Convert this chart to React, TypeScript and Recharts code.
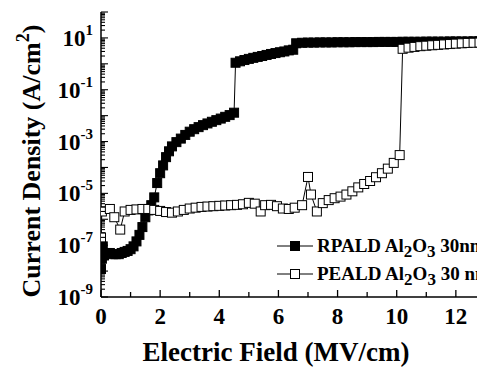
import { LineChart, Line, XAxis, YAxis } from 'recharts';

// RPALD Al2O3 30nm (filled squares)
const rpaldField = [
  0.0, 0.03, 0.06, 0.1, 0.2, 0.3, 0.4, 0.5, 0.6, 0.7, 0.8, 0.9, 1.0, 1.1, 1.2, 1.3, 1.4, 1.5, 1.6, 1.7, 1.8, 1.9,
  2.0, 2.1, 2.2, 2.3, 2.4, 2.55, 2.7, 2.85, 3.0, 3.15, 3.3, 3.45, 3.6, 3.75, 3.9, 4.05, 4.2, 4.35, 4.5,
  4.55, 4.7, 4.85, 5.0, 5.15, 5.3, 5.45, 5.6, 5.75, 5.9, 6.05, 6.2, 6.35, 6.5,
  6.6, 6.8, 7.0, 7.2, 7.4, 7.6, 7.8, 8.0, 8.2, 8.4, 8.6, 8.8, 9.0, 9.2, 9.4, 9.6, 9.8, 10.0,
  10.2, 10.4, 10.6, 10.8, 11.0, 11.2, 11.4, 11.6, 11.8, 12.0, 12.2, 12.4, 12.6, 12.8,
];
const rpaldCurrent = [
  1.2e-8, 3e-8, 9e-8, 4e-8, 5e-8, 5e-8, 4.5e-8, 4.5e-8, 4.5e-8, 5e-8, 5.5e-8, 6e-8, 7e-8, 9e-8, 1.4e-7, 2.5e-7, 5e-7, 1.2e-6, 2.2e-6, 3.5e-6, 7e-6, 2.5e-5,
  6e-5, 1.2e-4, 2.5e-4, 4.2e-4, 6.5e-4, 9.5e-4, 1.3e-3, 1.8e-3, 2.4e-3, 3e-3, 3.6e-3, 4.3e-3, 5e-3, 5.8e-3, 6.7e-3, 7.7e-3, 9e-3, 1.05e-2, 1.3e-2,
  1.1, 1.25, 1.4, 1.55, 1.7, 1.85, 2.0, 2.2, 2.4, 2.6, 2.8, 3.0, 3.3, 3.5,
  6.2, 6.5, 6.6, 6.6, 6.7, 6.7, 6.7, 6.8, 6.8, 6.8, 6.9, 6.9, 6.9, 6.9, 7.0, 7.0, 7.0, 7.0,
  7.1, 7.1, 7.1, 7.1, 7.2, 7.2, 7.2, 7.2, 7.3, 7.3, 7.3, 7.3, 7.4, 7.4,
];

// PEALD Al2O3 30 nm (open squares)
const pealdField = [
  0.0, 0.03, 0.3, 0.45, 0.65, 0.8,
  1.0, 1.2, 1.4, 1.6, 1.8, 2.0, 2.2, 2.4, 2.6, 2.8, 3.0, 3.2, 3.4, 3.6, 3.8, 4.0, 4.2, 4.4, 4.6, 4.8, 5.0, 5.2, 5.4,
  5.55, 5.75, 5.95, 6.15, 6.35, 6.55, 6.8,
  7.0, 7.1, 7.3,
  7.5, 7.7, 7.9, 8.1, 8.3, 8.5, 8.7, 8.9, 9.1, 9.3, 9.5, 9.7, 9.9, 10.1,
  10.2, 10.4, 10.6, 10.8, 11.0, 11.2, 11.4, 11.6, 11.8, 12.0, 12.2, 12.4, 12.6, 12.8,
];
const pealdCurrent = [
  2e-7, 2e-6, 2.5e-6, 1.2e-6, 4e-7, 2e-6,
  2.3e-6, 2.4e-6, 2.5e-6, 2.5e-6, 2.3e-6, 2.1e-6, 1.9e-6, 1.8e-6, 2e-6, 2.3e-6, 2.6e-6, 2.8e-6, 3e-6, 3.1e-6, 3.2e-6, 3.3e-6, 3.4e-6, 3.5e-6, 3.6e-6, 3.8e-6, 4.3e-6, 4e-6, 2e-6,
  3.5e-6, 3.6e-6, 3.2e-6, 2.6e-6, 2.5e-6, 2.8e-6, 3.5e-6,
  4.3e-5, 9e-6, 2e-6,
  4.2e-6, 5.5e-6, 6.5e-6, 7.5e-6, 9e-6, 1.2e-5, 1.7e-5, 2.3e-5, 3e-5, 4.2e-5, 6e-5, 9e-5, 1.5e-4, 3e-4,
  3.8, 4.2, 4.5, 4.8, 5.0, 5.2, 5.4, 5.6, 5.8, 6.0, 6.2, 6.4, 6.5, 6.6,
];

const fieldTicks = [0, 1, 2, 3, 4, 5, 6, 7, 8, 9, 10, 11, 12, 13, 14];
const fieldLabels = [0, 2, 4, 6, 8, 10, 12, 14];
const decades = [-9, -8, -7, -6, -5, -4, -3, -2, -1, 0, 1];
const mantissas = [1, 2, 3, 4, 5, 6, 7, 8, 9];
const labelledDecades = [-9, -7, -5, -3, -1, 1];

const currentTicks = [...decades.flatMap((e) => mantissas.map((m) => m * 10 ** e)), 100];

const rpaldData = rpaldField.map((x, i) => ({ x, y: rpaldCurrent[i] }));
const pealdData = pealdField.map((x, i) => ({ x, y: pealdCurrent[i] }));

const serif = { fontFamily: 'Liberation Serif, Times New Roman, serif', fontWeight: 700 };

function FieldTick({ x, y, payload }: any) {
  const v = payload.value as number;
  const major = fieldLabels.includes(v);
  return (
    <g>
      <line x1={x} y1={y} x2={x} y2={y - (major ? 7 : 5)} stroke="#000" strokeWidth={1.3} />
      {major && (
        <text x={x} y={y + 27} textAnchor="middle" style={serif} fontSize={23} fill="#000">
          {v}
        </text>
      )}
    </g>
  );
}

function TopTick({ x, y, payload }: any) {
  const major = fieldLabels.includes(payload.value);
  return <line x1={x} y1={y} x2={x} y2={y + (major ? 7 : 5)} stroke="#000" strokeWidth={1.3} />;
}

function CurrentTick({ x, y, payload }: any) {
  const lg = Math.log10(payload.value);
  const e = Math.round(lg);
  const major = Math.abs(lg - e) < 1e-6;
  return (
    <g>
      <line x1={x} y1={y} x2={x + (major ? 7 : 4)} y2={y} stroke="#000" strokeWidth={1.1} />
      {major && labelledDecades.includes(e) && (
        <text x={x - 8} y={y + 8} textAnchor="end" style={serif} fontSize={23} fill="#000">
          10
          <tspan dy={-11} fontSize={15}>{e}</tspan>
        </text>
      )}
    </g>
  );
}

function Square({ cx, cy, index, filled }: any) {
  if (cx == null || cy == null) return null;
  return (
    <rect key={index} x={cx - 4.5} y={cy - 4.5} width={9} height={9}
      fill={filled ? '#000' : '#fff'} stroke="#000" strokeWidth={1} />
  );
}

function YTitle() {
  return (
    <text transform="translate(40,161) rotate(-90)" textAnchor="middle" style={serif} fontSize={26} fill="#000">
      Current Density (A/cm<tspan dy={-11} fontSize={18}>2</tspan><tspan dy={11}>)</tspan>
    </text>
  );
}

function XTitle() {
  return (
    <text x={276} y={361} textAnchor="middle" style={serif} fontSize={27} fill="#000">
      Electric Field (MV/cm)
    </text>
  );
}

function LegendOverlay() {
  const rows = [
    { label: 'RPALD', tail: ' 30nm', filled: true, y: 246 },
    { label: 'PEALD', tail: ' 30 nm', filled: false, y: 274 },
  ];
  return (
    <svg width={477} height={368} style={{ position: 'absolute', left: 0, top: 0, pointerEvents: 'none' }}>
      {rows.map((r) => (
        <g key={r.label}>
          <line x1={277} y1={r.y} x2={313} y2={r.y} stroke="#000" strokeWidth={1} />
          <rect x={290.5} y={r.y - 4.5} width={9} height={9} fill={r.filled ? '#000' : '#fff'} stroke="#000" />
          <text x={317} y={r.y + 6} style={serif} fontSize={19} fill="#000">
            {r.label} Al<tspan dy={5} fontSize={17}>2</tspan><tspan dy={-5}>O</tspan><tspan dy={5} fontSize={17}>3</tspan>
            <tspan dy={-5}>{r.tail}</tspan>
          </text>
        </g>
      ))}
    </svg>
  );
}

export default function App() {
  return (
    <div style={{ position: 'absolute', left: 0, top: 0, width: 477, height: 368, overflow: 'hidden', background: '#fff' }}>
      <LineChart width={535} height={368} margin={{ top: 12, right: 20, bottom: 0, left: 0 }}>
        <XAxis
          xAxisId="bottom" type="number" dataKey="x" domain={[0, 14]} allowDataOverflow
          ticks={fieldTicks} interval={0} tickSize={0} tickMargin={0} tickLine={false}
          axisLine={{ stroke: '#000', strokeWidth: 1.5 }} height={71}
          tick={(p: any) => <FieldTick {...p} />}
          label={<XTitle />}
        />
        <XAxis
          xAxisId="top" orientation="top" type="number" dataKey="x" domain={[0, 14]} allowDataOverflow
          ticks={fieldTicks} interval={0} tickSize={0} tickMargin={0} tickLine={false}
          axisLine={{ stroke: '#000', strokeWidth: 1.5 }} height={0}
          tick={(p: any) => <TopTick {...p} />}
        />
        <YAxis
          yAxisId="left" type="number" scale="log" domain={[1e-9, 100]} allowDataOverflow
          ticks={currentTicks} interval={0} tickSize={0} tickMargin={0} tickLine={false}
          axisLine={{ stroke: '#000', strokeWidth: 1.5 }} width={101}
          tick={(p: any) => <CurrentTick {...p} />}
          label={<YTitle />}
        />
        <Line
          xAxisId="bottom" yAxisId="left" data={rpaldData} dataKey="y" type="linear"
          stroke="#000" strokeWidth={1} isAnimationActive={false} activeDot={false}
          dot={(p: any) => <Square key={p.index} {...p} filled />}
        />
        <Line
          xAxisId="bottom" yAxisId="left" data={pealdData} dataKey="y" type="linear"
          stroke="#000" strokeWidth={1} isAnimationActive={false} activeDot={false}
          dot={(p: any) => <Square key={p.index} {...p} filled={false} />}
        />
      </LineChart>
      <LegendOverlay />
    </div>
  );
}
